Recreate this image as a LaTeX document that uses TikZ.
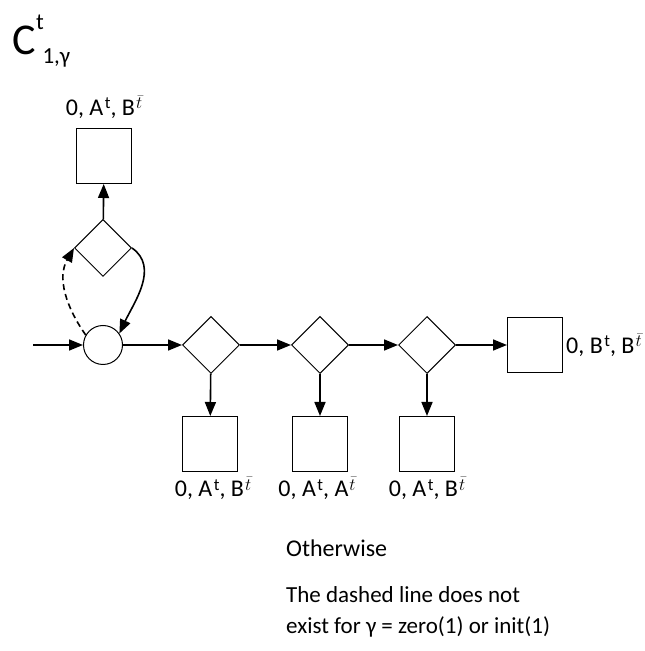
\documentclass[tikz,border=0pt]{standalone}
\usepackage{fontspec}
\setmainfont{Carlito}
\usepackage{amsmath}
\usetikzlibrary{arrows.meta,shapes.geometric,positioning}

\newcommand{\supt}{\kern1.5pt\raisebox{0.6ex}{\fontsize{17}{17}\selectfont t}}
\newcommand{\supbt}{\kern1pt\raisebox{0.6ex}{\fontsize{17}{17}\selectfont $\bar{t}$}}

\begin{document}
\begin{tikzpicture}[x=1pt,y=1pt,
  box/.style={draw, minimum size=55pt, inner sep=0pt, line width=1pt},
  dec/.style={draw, diamond, minimum size=57pt, inner sep=0pt, line width=1pt},
  mergept/.style={draw, circle, minimum size=39pt, inner sep=0pt, line width=1pt},
  flow/.style={line width=1.6pt, -{Triangle[length=14pt,width=11pt]}},
  lbl/.style={font=\fontsize{24}{28}\selectfont, inner sep=0pt}]
  \useasboundingbox (0,0) rectangle (645,651);

  % Title
  \node (titleC) at (24,611) {\fontsize{44}{44}\selectfont C};
  \node (titlesup) at (40,629) {\fontsize{23}{23}\selectfont t};
  \node[anchor=west] (titlesub) at (39,593) {\fontsize{23}{23}\selectfont 1,γ};

  % Entry and merge
  \coordinate (in) at (33,306);
  \node[mergept] (jn) at (103,306) {};

  % Loop on top
  \node[dec] (dT) at (103,403) {};
  \node[box] (bT) at (104,495) {};
  \node[lbl, above=9pt of bT] (lT) {0, A\supt, B\supbt};

  % Main row
  \node[dec] (d1) at (211,306) {};
  \node[dec] (d2) at (320,306) {};
  \node[dec] (d3) at (427,306) {};
  \node[box] (bR) at (535,306) {};
  \node[lbl, right=3pt of bR] (lR) {0, B\supt, B\supbt};

  % Exits below
  \node[box] (b1) at (210,207) {};
  \node[box] (b2) at (320,207) {};
  \node[box] (b3) at (427,207) {};
  \node[lbl, below=5pt of b1, xshift=3pt] (l1) {0, A\supt, B\supbt};
  \node[lbl, below=5pt of b2, xshift=-3pt] (l2) {0, A\supt, A\supbt};
  \node[lbl, below=5pt of b3] (l3) {0, A\supt, B\supbt};

  % Connectors
  \draw[flow] (in) -- (jn);
  \draw[flow] (jn) -- (d1);
  \draw[flow] (d1) -- (d2);
  \draw[flow] (d2) -- (d3);
  \draw[flow] (d3) -- (bR);
  \draw[flow] (d1) -- (b1);
  \draw[flow] (d2) -- (b2);
  \draw[flow] (d3) -- (b3);
  \draw[flow] (dT) -- (bT);
  \draw[flow] (dT.east) to[out=-35,in=65] (jn.35);
  \draw[flow, dash pattern=on 6pt off 4pt] (jn.150) to[out=125,in=-120] (dT.west);

  % Notes
  \node[lbl, anchor=west] (note1) at (286,103) {Otherwise};
  \node[lbl, anchor=west, align=left, font=\fontsize{23}{31}\selectfont] (note2) at (286,39)
    {The dashed line does not\\exist for γ = zero(1) or init(1)};
\end{tikzpicture}
\end{document}
